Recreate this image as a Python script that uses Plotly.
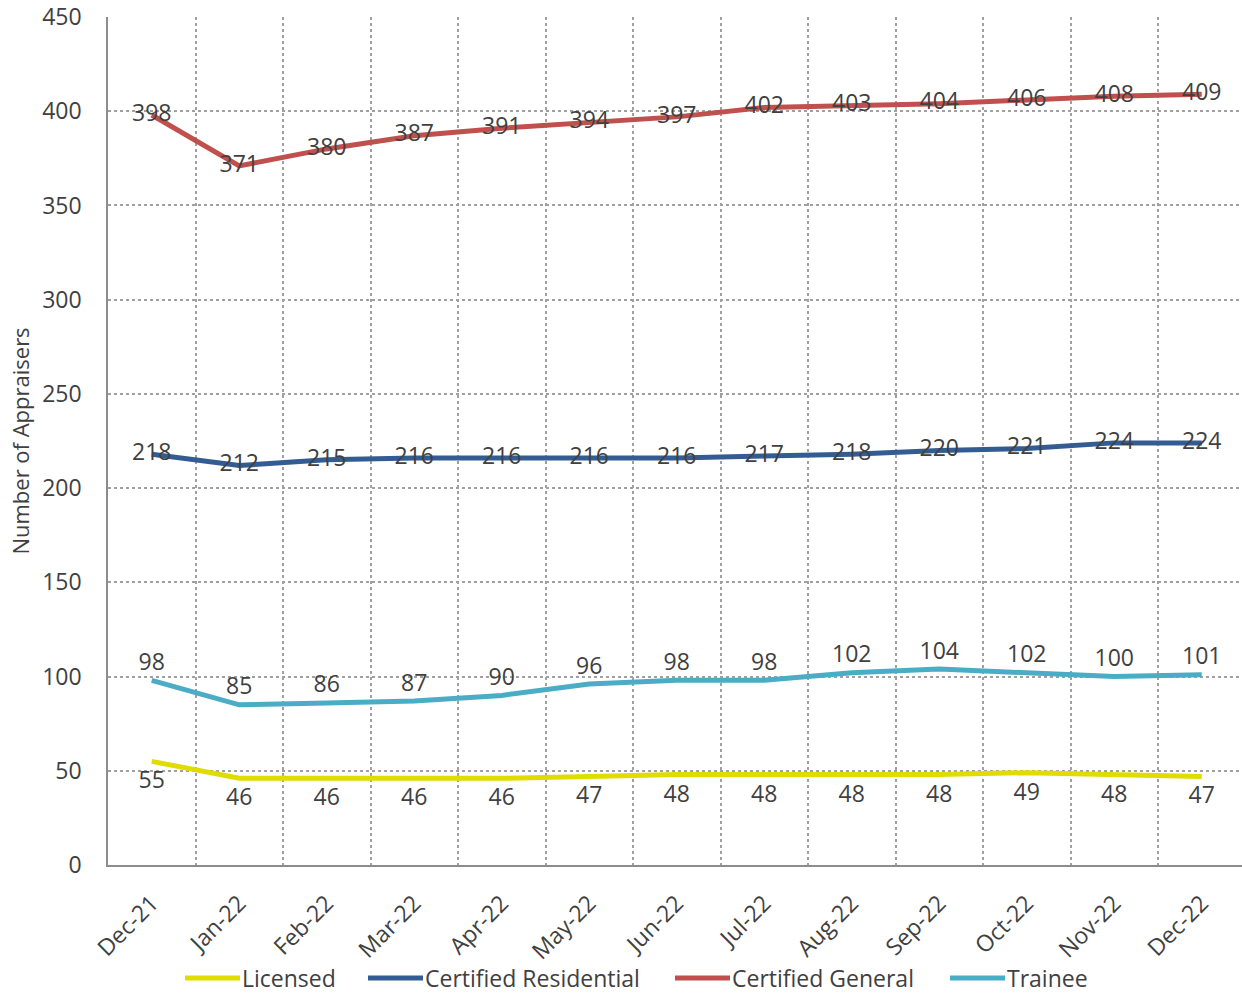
import plotly.graph_objects as go

months = ["Dec-21", "Jan-22", "Feb-22", "Mar-22", "Apr-22", "May-22", "Jun-22",
          "Jul-22", "Aug-22", "Sep-22", "Oct-22", "Nov-22", "Dec-22"]
licensed = [55, 46, 46, 46, 46, 47, 48, 48, 48, 48, 49, 48, 47]
certified_residential = [218, 212, 215, 216, 216, 216, 216, 217, 218, 220, 221, 224, 224]
certified_general = [398, 371, 380, 387, 391, 394, 397, 402, 403, 404, 406, 408, 409]
trainee = [98, 85, 86, 87, 90, 96, 98, 98, 102, 104, 102, 100, 101]
y_ticks = [0, 50, 100, 150, 200, 250, 300, 350, 400, 450]

FONT = "Open Sans"
TEXT_COLOR = "#404040"
W, H = 1242, 993
M_L, M_R, M_T, M_B = 108, 0, 17, 128
x = list(range(len(months)))

# name, values, colour, label position, invisible marker size (label offset)
series = [
    ("Licensed", licensed, "#E1DC00", "bottom center", 14),
    ("Certified Residential", certified_residential, "#335C93", "middle center", 0),
    ("Certified General", certified_general, "#C0504D", "middle center", 0),
    ("Trainee", trainee, "#4BACC6", "top center", 6),
]

fig = go.Figure()
for name, values, color, pos, msize in series:
    fig.add_trace(go.Scatter(
        x=x, y=values, name=name, mode="lines+markers+text",
        line=dict(color=color, width=5),
        marker=dict(size=msize, color="rgba(0,0,0,0)"),
        text=[str(v) for v in values], textposition=pos,
        textfont=dict(family=FONT, size=23, color=TEXT_COLOR),
        cliponaxis=False, showlegend=False,
    ))

# Legend row below the axis: long line swatch followed by the series name
plot_w = W - M_L - M_R
plot_h = H - M_T - M_B
legend_px_x = [185, 368, 675, 950]   # left edge of each swatch, px
legend_px_y = 978
swatch_len = 55
ly = (H - M_B - legend_px_y) / plot_h
for (name, _, color, _, _), px in zip(series, legend_px_x):
    x0 = (px - M_L) / plot_w
    x1 = (px + swatch_len - M_L) / plot_w
    fig.add_shape(type="line", xref="paper", yref="paper", x0=x0, x1=x1, y0=ly, y1=ly,
                  line=dict(color=color, width=5))
    fig.add_annotation(xref="paper", yref="paper", x=x1, y=ly, text=name,
                       xanchor="left", yanchor="middle", showarrow=False,
                       font=dict(family=FONT, size=23, color=TEXT_COLOR))

fig.update_layout(
    width=W, height=H,
    margin=dict(l=M_L, r=M_R, t=M_T, b=M_B, autoexpand=False),
    plot_bgcolor="white", paper_bgcolor="white",
    font=dict(family=FONT, size=23, color=TEXT_COLOR),
    showlegend=False,
)

fig.update_xaxes(
    range=[-0.5, 12.46], automargin=False,
    tickmode="array", tickvals=x, ticktext=months, tickangle=-45,
    ticks="outside", ticklen=14, tickcolor="rgba(0,0,0,0)",
    tickfont=dict(family=FONT, size=23, color=TEXT_COLOR),
    showgrid=False, zeroline=False,
    showline=True, linecolor="#8c8c8c", linewidth=1.5,
    minor=dict(tickmode="array", tickvals=[i + 0.5 for i in x],
               showgrid=True, gridcolor="#a0a0a0", griddash="dot", gridwidth=1.5,
               ticks=""),
)

fig.update_yaxes(
    range=[0, 450], automargin=False,
    tickmode="array", tickvals=y_ticks,
    ticks="outside", ticklen=20, tickcolor="rgba(0,0,0,0)",
    tickfont=dict(family=FONT, size=23, color=TEXT_COLOR),
    showgrid=True, gridcolor="#a0a0a0", griddash="dot", gridwidth=1.5,
    zeroline=False,
    showline=True, linecolor="#8c8c8c", linewidth=1.5,
    title=dict(text="Number of Appraisers", standoff=6,
               font=dict(family=FONT, size=22, color=TEXT_COLOR)),
)

fig.write_html("out.html")
